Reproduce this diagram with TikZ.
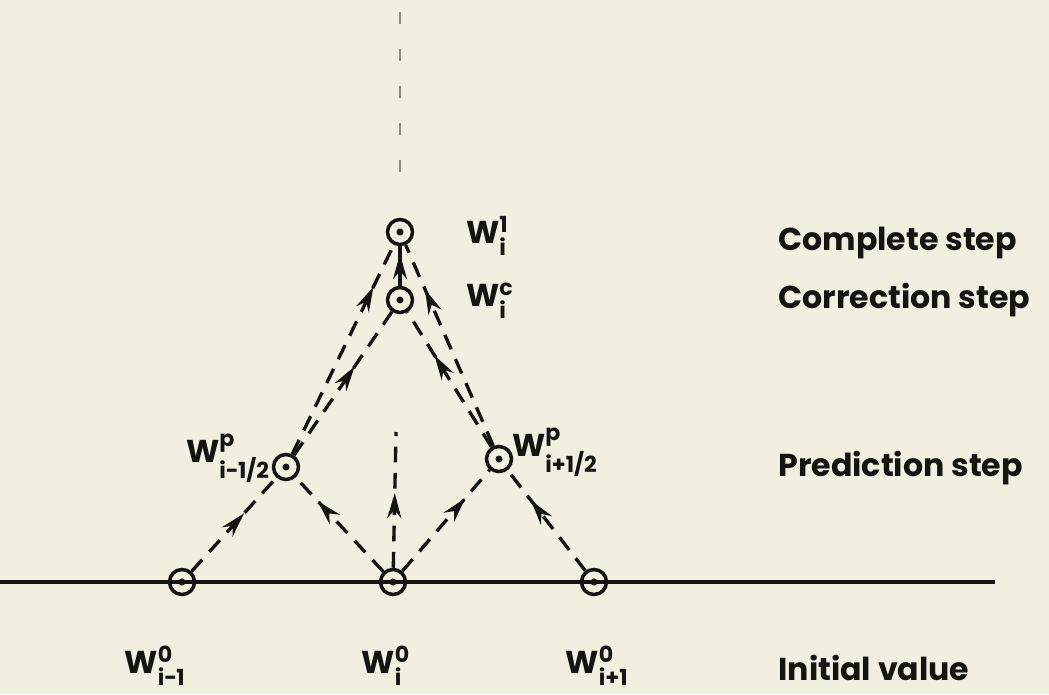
\documentclass[tikz,border=0pt]{standalone}
\usepackage{amsmath}
\usepackage{fontspec}
\setmainfont{Poppins}
\usepackage{tikz}
\usetikzlibrary{arrows.meta,decorations.markings}
\definecolor{Ink}{HTML}{151412}
\definecolor{Paper}{HTML}{F2EFE0}
\definecolor{Faint}{HTML}{8C8A82}
\tikzset{
  gridpt/.style={circle,draw=Ink,line width=2pt,minimum size=0.5cm,inner sep=0pt,
    path picture={\fill[Ink] (path picture bounding box.center) circle (2pt);}},
  wlab/.style={text=Ink,font=\fontsize{18}{20}\selectfont\bfseries,inner sep=1pt},
  steplab/.style={text=Ink,font=\fontsize{18}{20}\selectfont\bfseries,anchor=west,inner sep=0pt},
  flux/.style={draw=Ink,line width=1.9pt,dash pattern=on 9pt off 6pt},
  faintline/.style={draw=Faint,line width=0.9pt,dash pattern=on 7pt off 14pt},
  midarrow/.style={postaction={decorate},decoration={markings,
    mark=at position #1 with {\arrow[Ink]{Stealth[length=5mm,width=2.8mm]}}}}
}
\newcommand\Wlab[2]{W$_{\text{#1}}^{\text{#2}}$}

\begin{document}
\begin{tikzpicture}[x=0.02cm,y=-0.02cm]
\fill[Paper] (0,0) rectangle (1049,694);
\useasboundingbox (0,0) rectangle (1049,694);
% axis of initial values
\coordinate (axisL) at (0,582);
\coordinate (axisR) at (995,582);
\draw[Ink,line width=2pt] (axisL) -- (axisR);
% grid points
\node[gridpt] (n0m) at (182,582) {};
\node[gridpt] (n0)  at (393,582) {};
\node[gridpt] (n0p) at (594,582) {};
\node[gridpt] (pm)  at (286,467) {};
\node[gridpt] (pp)  at (499,459) {};
\node[gridpt] (wc)  at (400,300) {};
\node[gridpt] (w1)  at (400,232) {};
\coordinate (topA) at (400,12);
\coordinate (topB) at (400,175);
\coordinate (midtop) at (396,432);
% prediction step
\draw[flux,midarrow=0.62] (n0m) -- (pm);
\draw[flux,midarrow=0.75] (n0) -- (pm);
\draw[flux,midarrow=0.72] (n0) -- (pp);
\draw[flux,midarrow=0.7] (n0p) -- (pp);
\draw[flux,midarrow=0.55] (n0) -- (midtop);
% correction and complete step
\draw[flux,midarrow=0.62] (pm) -- (wc);
\draw[flux,midarrow=0.8] (pm) -- (w1);
\draw[flux,midarrow=0.68] (pp) -- (wc);
\draw[flux,midarrow=0.78] (pp) -- (w1);
\draw[Ink,line width=1.9pt,midarrow=0.8] (wc) -- (w1);
\draw[faintline] (topA) -- (topB);
% point labels
\node[wlab,anchor=west] (lw1) at (464,236) {\Wlab{i}{1}};
\node[wlab,anchor=west] (lwc) at (464,301) {\Wlab{i}{c}};
\node[wlab,anchor=east] (lpm) at (272,458) {\Wlab{i−1/2}{p}};
\node[wlab,anchor=west] (lpp) at (510,452) {\Wlab{i+1/2}{p}};
\node[wlab] (l0m) at (155,666) {\Wlab{i−1}{0}};
\node[wlab] (l0)  at (386,666) {\Wlab{i}{0}};
\node[wlab] (l0p) at (597,666) {\Wlab{i+1}{0}};
% step names
\foreach \y/\name in {243/Complete step,300/Correction step,468/Prediction step,668/Initial value}{
  \node[steplab] at (778,\y) {\name};
}
\end{tikzpicture}
\end{document}
